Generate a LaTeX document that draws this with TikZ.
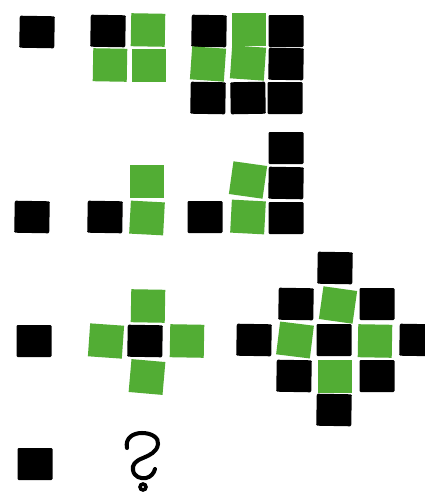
\documentclass[tikz,border=0pt]{standalone}
\usepackage{xcolor}
\usepackage{tikz}
\definecolor{leaf}{RGB}{82,173,52}
\tikzset{
  blk/.style={fill=black, rounded corners=0.6pt},
  grn/.style={fill=leaf},
}

\begin{document}
\begin{tikzpicture}[x=0.02cm, y=-0.02cm]
  \clip (0,0) rectangle (425,494);
  \fill[white] (0,0) rectangle (425,494);
  % black blocks
  \foreach \x/\y/\a in {37/32/1, 108/31/1, 209/31/1, 286/31/0, 286/64/1, 208/98/1, 248/98/-1, 285/98/0,
      32/217/1, 105/217/1, 205/217/0, 286/148/0, 286/183/1, 286/218/0,
      34/341/0, 145/341/1, 335/268/1, 296/304/1, 377/304/0, 254/340/1, 334/340/0, 417/340/1,
      294/376/1, 377/376/0, 334/410/1, 35/464/0}
    \fill[blk, rotate around={-\a:(\x,\y)}] (\x-17.5,\y-16) rectangle (\x+17.5,\y+16);
  % green blocks
  \foreach \x/\y/\a in {148/30/1, 110/65/1, 149/65/0, 249/29/0, 208/64/4, 248/63/4,
      147/181/0, 147/218/3, 248/180/8, 248/217/3,
      148/306/1, 106/341/4, 187/341/1, 147/377/5,
      338/305/8, 295/340/7, 375/341/1, 335/376/0}
    \fill[grn, rotate around={-\a:(\x,\y)}] (\x-17,\y-16.5) rectangle (\x+17,\y+16.5);
  % question mark
  \draw[line width=2.3pt, line cap=round]
    (127,448) .. controls (125,438) and (133,433) .. (142,433)
    .. controls (152,433) and (159,438) .. (158,444)
    .. controls (157,452) and (150,455) .. (143,458)
    .. controls (135,461) and (132,465) .. (133,470)
    .. controls (134,477) and (141,479) .. (146,478)
    .. controls (151,477) and (154,473) .. (155,469);
  \draw[line width=2pt] (143,487) circle (3);
\end{tikzpicture}
\end{document}
